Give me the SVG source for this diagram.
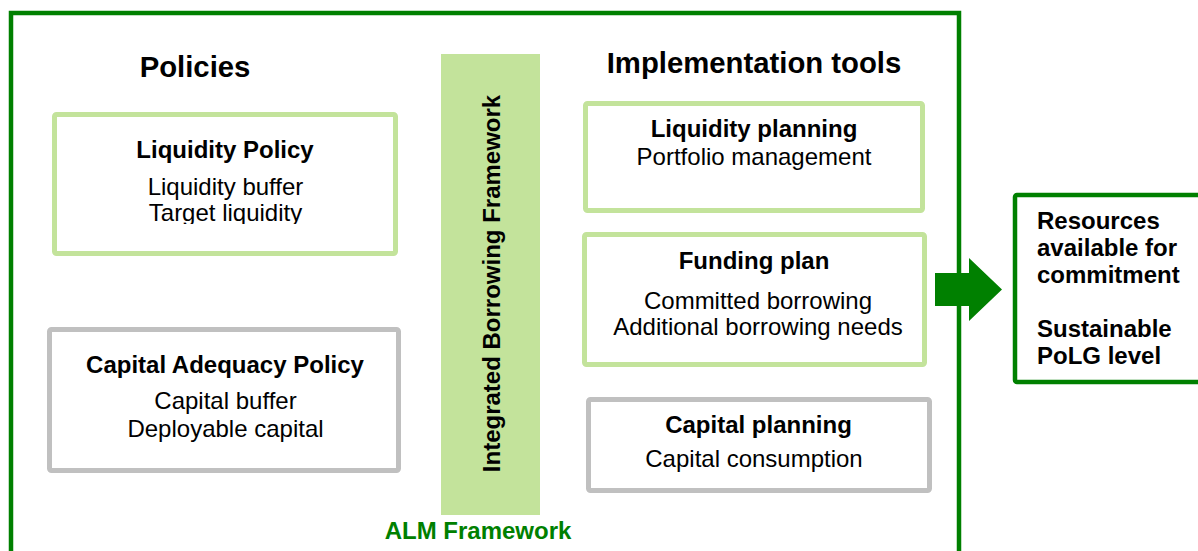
<svg xmlns="http://www.w3.org/2000/svg" width="1198" height="551" viewBox="0 0 1198 551">
  <style>
    text { font-family: "Liberation Sans", Arial, sans-serif; fill: #000; }
    .head { font-size: 29.3px; font-weight: bold; text-anchor: middle; }
    .title { font-size: 24px; font-weight: bold; text-anchor: middle; }
    .body { font-size: 24px; text-anchor: middle; }
    .out { font-size: 24px; font-weight: bold; }
    .alm { font-size: 24px; font-weight: bold; fill: #008000; text-anchor: middle; }
    .frame { fill: none; stroke: #008000; stroke-width: 4.5; }
    .box-lite { fill: #fff; stroke: #c3e39b; stroke-width: 5; }
    .box-grey { fill: #fff; stroke: #c0c0c0; stroke-width: 5; }
    .box-dark { fill: #fff; stroke: #008000; stroke-width: 4.5; }
  </style>
  <defs>
    <!-- lower line of the liquidity policy box is cut just below its baseline -->
    <clipPath id="clip-liq">
      <rect x="52" y="112" width="346" height="112"/>
    </clipPath>
  </defs>

  <rect width="1198" height="551" fill="#fff"/>

  <!-- ALM framework frame, open at the bottom edge -->
  <g id="alm-frame">
    <path class="frame" d="M11,551 V13 H959 V551"/>
    <text class="alm" x="478" y="539">ALM Framework</text>
  </g>

  <g id="policies-heading">
    <text class="head" x="195" y="77">Policies</text>
  </g>

  <g id="impl-heading">
    <text class="head" x="754" y="73">Implementation tools</text>
  </g>

  <g id="liquidity-policy">
    <rect class="box-lite" x="54.5" y="114.5" width="341" height="139" rx="2"/>
    <text class="title" x="225" y="158">Liquidity Policy</text>
    <g clip-path="url(#clip-liq)">
      <text class="body" x="225.5" y="195">Liquidity buffer</text>
      <text class="body" x="225.5" y="221">Target liquidity</text>
    </g>
  </g>

  <g id="capital-policy">
    <rect class="box-grey" x="49.5" y="329.5" width="349" height="141" rx="2"/>
    <text class="title" x="225" y="373">Capital Adequacy Policy</text>
    <text class="body" x="225.5" y="409">Capital buffer</text>
    <text class="body" x="225.5" y="437">Deployable capital</text>
  </g>

  <g id="ibf-bar">
    <rect x="441" y="54" width="99" height="461" fill="#c3e39b"/>
    <text class="title" transform="translate(500,283.5) rotate(-90)">Integrated Borrowing Framework</text>
  </g>

  <g id="liquidity-planning">
    <rect class="box-lite" x="585.5" y="103.5" width="337" height="107" rx="2"/>
    <text class="title" x="754" y="137">Liquidity planning</text>
    <text class="body" x="754" y="165">Portfolio management</text>
  </g>

  <g id="funding-plan">
    <rect class="box-lite" x="584.5" y="234.5" width="340" height="130" rx="2"/>
    <text class="title" x="754" y="269">Funding plan</text>
    <text class="body" x="758" y="309">Committed borrowing</text>
    <text class="body" x="758" y="335">Additional borrowing needs</text>
  </g>

  <g id="capital-planning">
    <rect class="box-grey" x="588.5" y="399.5" width="341" height="91" rx="2"/>
    <text class="title" x="758.5" y="433">Capital planning</text>
    <text class="body" x="754" y="467">Capital consumption</text>
  </g>

  <g id="outcomes">
    <rect class="box-dark" x="1015" y="195" width="200" height="187" rx="2"/>
    <text class="out" x="1037" y="229">Resources</text>
    <text class="out" x="1037" y="256">available for</text>
    <text class="out" x="1037" y="283">commitment</text>
    <text class="out" x="1037" y="337">Sustainable</text>
    <text class="out" x="1037" y="364">PoLG level</text>
  </g>

  <g id="connectors">
    <path d="M935,273 H969 V258 L1002,289.5 L969,321 V306 H935 Z" fill="#008000"/>
  </g>
</svg>
